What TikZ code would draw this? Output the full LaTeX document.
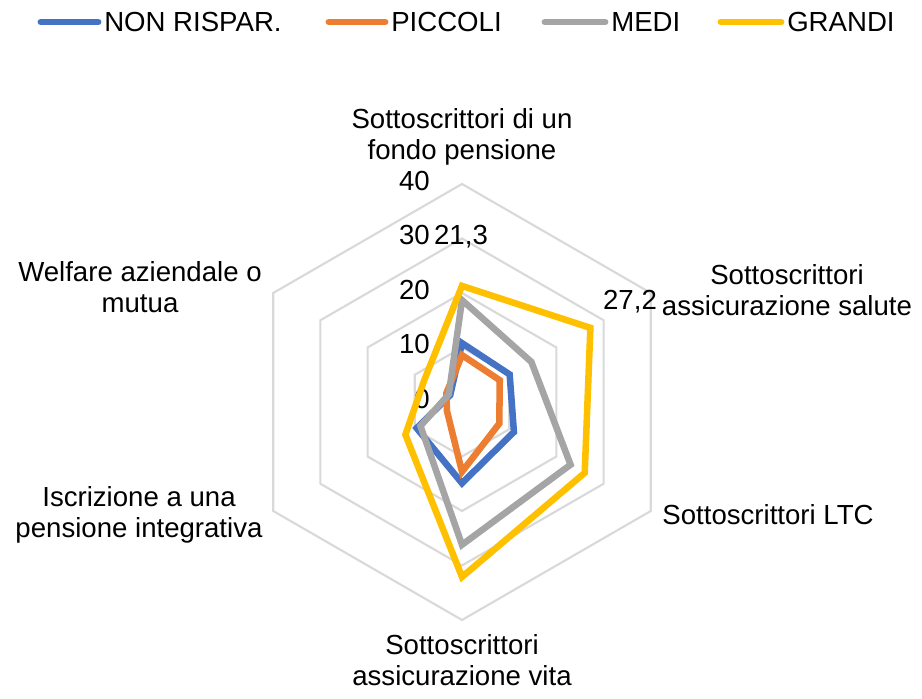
\documentclass[tikz,border=0pt]{standalone}
\usepackage{fontspec}
\setmainfont{Liberation Sans}
\usepackage{tikz}
\usetikzlibrary{positioning,calc}

\begin{document}
\begin{tikzpicture}[x=0.75pt,y=0.75pt]
        \definecolor{colorA}{HTML}{4472C4}
        \definecolor{colorB}{HTML}{ED7D31}
        \definecolor{colorC}{HTML}{A5A5A5}
        \definecolor{colorD}{HTML}{FFC000}
        \definecolor{gridgray}{HTML}{D9D9D9}
        \def\pxu{5.45}
        \tikzset{
          every node/.style={font=\fontsize{20.7}{23.3}\selectfont, inner sep=0pt, text=black},
          axis label/.style={align=center},
          serie/.style={line width=4.9pt, line join=miter},
          ring/.style={draw=gridgray, line width=1.6pt},
          key line/.style={line width=5.2pt, line cap=round}
        }
        \def\radar#1#2#3#4#5#6#7{%
          \draw[serie,#1] (90:#2*\pxu) -- (30:#3*\pxu) -- (-30:#4*\pxu)
            -- (-90:#5*\pxu) -- (210:#6*\pxu) -- (150:#7*\pxu) -- cycle;}

        \useasboundingbox (0,0) rectangle (922,699);

        % legend
        \node[anchor=west] (keyA) at (104,677) {NON RISPAR.};
        \node[anchor=west] (keyB) at (391,677) {PICCOLI};
        \node[anchor=west] (keyC) at (611,677) {MEDI};
        \node[anchor=west] (keyD) at (787,677) {GRANDI};
        \draw[key line,colorA] (41,677) -- ($(keyA.west)+(-6,0)$);
        \draw[key line,colorB] (329,677) -- ($(keyB.west)+(-6,0)$);
        \draw[key line,colorC] (545,677) -- ($(keyC.west)+(-6,0)$);
        \draw[key line,colorD] (721,677) -- ($(keyD.west)+(-6,0)$);

        \begin{scope}[shift={(462,297)}]
          % grid
          \foreach \v [evaluate=\v as \r using \v*\pxu] in {10,20,30,40}
            \draw[ring] (90:\r) -- (30:\r) -- (-30:\r) -- (-90:\r) -- (210:\r) -- (150:\r) -- cycle;
          \foreach \v in {0,10,20,30,40}
            \node[anchor=east] (tick\v) at (-32,{\v*\pxu+3}) {\v};

          % series
          \radar{colorA}{10.8}{10.1}{11}{14.9}{9.6}{2.5}
          \radar{colorB}{8.6}{8}{7.9}{12.8}{3.2}{3.3}
          \radar{colorC}{18.7}{14.7}{23}{26.2}{8.8}{2.8}
          \radar{colorD}{21.3}{27.2}{26}{32.1}{12}{8}

          \node (valTop) at (-1,165) {21,3};
          \node (valSal) at (168,100) {27,2};

          % categories
          \node[axis label] (catFondo) at (0,265) {Sottoscrittori di un\\fondo pensione};
          \node[axis label] (catSalute) at (325,112) {Sottoscrittori\\assicurazione salute};
          \node[axis label] (catLTC) at (306,-113) {Sottoscrittori LTC};
          \node[axis label] (catVita) at (0,-258) {Sottoscrittori\\assicurazione vita};
          \node[axis label] (catInteg) at (-323,-113) {Iscrizione a una\\pensione integrativa};
          \node[axis label] (catWelf) at (-322,115) {Welfare aziendale o\\mutua};
        \end{scope}
\end{tikzpicture}
\end{document}
